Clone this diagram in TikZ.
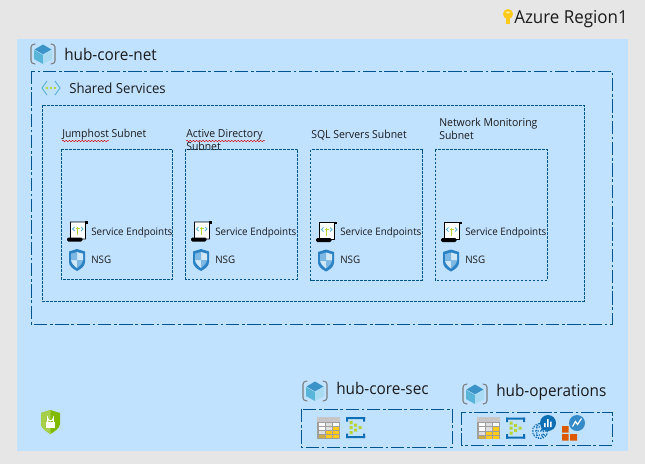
\documentclass[tikz,border=0pt]{standalone}
\usepackage{fontspec}
\setmainfont[FakeStretch=.95]{Open Sans}
\usetikzlibrary{decorations.pathmorphing}
\definecolor{pagebg}{HTML}{E6E6E6}
\definecolor{regionblue}{HTML}{C1E2FF}
\definecolor{linkblue}{HTML}{00548F}
\definecolor{txt}{HTML}{1A1A1A}
\definecolor{azdark}{HTML}{0F6FB5}
\definecolor{azmid}{HTML}{59B4D9}
\definecolor{azlight}{HTML}{A9DCF2}
\definecolor{aztop}{HTML}{3B93C7}
\definecolor{brk}{HTML}{7A7A7A}
\definecolor{limeg}{HTML}{B8D432}
\definecolor{shdark}{HTML}{2A81C4}
\definecolor{shlight}{HTML}{CFE7F7}
\definecolor{shmid}{HTML}{7DB8E4}
\definecolor{gold}{HTML}{FFCA1A}
\definecolor{orng}{HTML}{DD5900}
\definecolor{lockd}{HTML}{7FBA00}
\definecolor{lockl}{HTML}{A6CF4A}
\tikzset{
  x=.75pt,y=-.75pt,
  dashdot/.style={draw=linkblue,line width=.6pt,dash pattern=on 10pt off 2pt on 2pt off 2pt},
  dashbox/.style={draw=linkblue,line width=.6pt,dash pattern=on 2pt off 1pt},
  txtbase/.style={anchor=base west,inner sep=0pt,text=txt},
  lab/.style={txtbase,font=\fontsize{8.25pt}{10pt}\selectfont},
  labshared/.style={txtbase,font=\fontsize{10.4pt}{12pt}\selectfont},
  labbig/.style={txtbase,font=\fontsize{12.1pt}{14pt}\selectfont},
  labsvc/.style={txtbase,font=\fontsize{7.75pt}{9pt}\selectfont},
  labregion/.style={txtbase,font=\fontsize{13.4pt}{15pt}\selectfont},
  squig/.style={draw=red!85!black,line width=.35pt,decorate,decoration={snake,amplitude=.5pt,segment length=2.4pt}},
  pics/cube/.style={code={
    \draw[brk,line width=.8pt,line cap=round,line join=round] (-8,-10)--(-11,-9)--(-12,-7)--(-12,7)--(-11,9)--(-8,10);
    \draw[brk,line width=.8pt,line cap=round,line join=round] (8,-10)--(11,-9)--(12,-7)--(12,7)--(11,9)--(8,10);
    \fill[azmid] (-9,-4)--(0,1)--(0,10)--(-9,5)--cycle;
    \fill[azlight] (9,-4)--(0,1)--(0,10)--(9,5)--cycle;
    \fill[aztop] (0,-9.5)--(8.5,-4.5)--(0,.3)--(-8.5,-4.5)--cycle;
  }},
  pics/subneticon/.style={code={
    \draw[azmid,line width=.7pt] (-4,-7)--(-9,0)--(-4,7);
    \draw[azmid,line width=.7pt] (4,-7)--(9,0)--(4,7);
    \fill[limeg] (-4,0) circle (1.4) (0,0) circle (1.4) (4,0) circle (1.4);
  }},
  pics/scroll/.style={code={
    \draw[black,line width=.55pt,fill=white] (-6.5,-10)--(9,-10)--(8.5,-8)--(8.5,7)--(-6.5,7)--cycle;
    \fill[black,rounded corners=1pt] (-10,5.5) rectangle (5.5,9.5);
    \fill[black] (7.5,-11) rectangle (10.5,-8.5);
    \draw[azmid,line width=.6pt] (-2.5,-5)--(-4.5,-3)--(-2.5,-1) (4,-5)--(6,-3)--(4,-1);
    \draw[limeg,line width=.9pt] (.8,-5)--(.8,3);
    \draw[limeg,line width=.7pt] (-1.5,-3.5)--(3.1,-3.5);
  }},
  pics/shield/.style={code={
    \fill[shdark] (0,-11)--(8,-8.5)--(8,2) .. controls (8,6) and (4,9) .. (0,11) .. controls (-4,9) and (-8,6) .. (-8,2)--(-8,-8.5)--cycle;
    \fill[shlight] (0,-8)--(6,-6.3)--(6,0)--(0,0)--cycle;
    \fill[shlight] (0,0)--(-6,0) .. controls (-5.7,3) and (-3,6) .. (0,8)--cycle;
    \fill[shmid] (0,-8)--(-6,-6.3)--(-6,0)--(0,0)--cycle;
    \fill[shmid] (0,0)--(6,0) .. controls (5.7,3) and (3,6) .. (0,8)--cycle;
  }},
  pics/tableicon/.style={code={
    \fill[gray!75] (-11.5,-11) rectangle (11.5,11);
    \fill[gray!45] (-11.5,-11) rectangle (11.5,-6);
    \foreach \cx/\cy/\cc in {-10/-5/white,-3/-5/gray!25,4/-5/white,-10/-0.7/white,-3/-0.7/gray!25,4/-0.7/gold,-10/3.6/gray!25,-3/3.6/gold,4/3.6/gold,-10/7.5/gold!60!gray,-3/7.5/gold,4/7.5/gold}
      \fill[\cc] (\cx,\cy) rectangle ++(6,3.3);
  }},
  pics/flowicon/.style={code={
    \fill[azdark] (-9.5,-10.5) rectangle (9.5,-8.5) (-9.5,8.5) rectangle (9.5,10.5);
    \fill[azdark] (-9.5,-10.5) rectangle (-7.5,-6) (7.5,-10.5) rectangle (9.5,-6) (-9.5,6) rectangle (-7.5,10.5) (7.5,6) rectangle (9.5,10.5);
    \fill[limeg] (-6,-6.5) rectangle (-3,-3.5) (-6,-1.5) rectangle (-3,1.5) (-6,3.5) rectangle (-3,6.5) (-1.5,-4) rectangle (1.5,-1) (-1.5,1) rectangle (1.5,4) (3,-1.5) rectangle (6,1.5);
  }},
  pics/monitor/.style={code={
    \draw[azdark,line width=.9pt,densely dotted] (-4.5,4) circle (7.5) (-4.5,4) ellipse (3.5 and 7.5) (-12,4)--(3,4) (-11,0)--(2,0) (-11,8)--(2,8);
    \fill[azdark] (3.5,-4) circle (8);
    \fill[azdark] (-4,4)--(-1,-3)--(2,2)--cycle;
    \fill[white] (-.5,-4) rectangle (1,0) (2.5,-8) rectangle (4,0) (5.5,-5.5) rectangle (7,0);
  }},
  pics/insights/.style={code={
    \fill[orng] (-11.5,-.5) rectangle (-5,6) (-11.5,7.5) rectangle (-5,14) (-3.5,7.5) rectangle (3.5,14);
    \fill[shdark!80!azmid] (3.5,-3.5) circle (8);
    \draw[white,line width=.9pt] (-1,0)--(2,-5)--(4,-2)--(8,-8);
  }},
  pics/lockshield/.style={code={
    \fill[lockd] (0,-12)--(9.5,-9)--(9.5,2) .. controls (9.5,6) and (4,9.5) .. (0,12) .. controls (-4,9.5) and (-9.5,6) .. (-9.5,2)--(-9.5,-9)--cycle;
    \fill[lockl] (0,-12)--(-9.5,-9)--(-9.5,2) .. controls (-9.5,6) and (-4,9.5) .. (0,12)--cycle;
    \fill[white] (-4.5,0) rectangle (4.5,6);
    \draw[white,line width=.8pt] (-2.8,0)--(-2.8,-4) arc (180:0:2.8)--(2.8,0);
  }},
  pics/key/.style={code={
    \fill[gold] (0,-3) circle (5);
    \fill[gold] (-1.8,-1) rectangle (1.8,7);
    \fill[white!60!gold] (0,-4.5) ellipse (2 and 1);
  }},
}
\begin{document}
\begin{tikzpicture}
\useasboundingbox (0,0) rectangle (645,464);
\fill[pagebg] (0,0) rectangle (645,464);
\fill[regionblue] (17,39) rectangle (628,451);
\draw[dashdot] (31,71) rectangle (612,324);
\draw[dashbox] (42,105) rectangle (584,301);
\node[labregion] (region) at (514,23.5) {Azure Region1};
\pic at (508,17) {key};
\pic at (43,54) {cube};
\node[labbig] (hubnet) at (64,60) {hub-core-net};
\pic at (51,88) {subneticon};
\node[labshared] (shared) at (69,93) {Shared Services};
% subnets
\draw[dashbox] (61,149) rectangle (172.5,279);
\draw[dashbox] (185.5,149) rectangle (297.5,279);
\draw[dashbox] (310.5,149.5) rectangle (422,280);
\draw[dashbox] (435,149.5) rectangle (547.5,280);
\node[lab] (s1) at (62,137.7) {Jumphost Subnet};
\node[lab] (s2a) at (186,137.7) {Active Directory};
\node[lab] (s2b) at (186,150.7) {Subnet};
\node[lab] (s3) at (311,138.7) {SQL Servers Subnet};
\node[lab] (s4a) at (439,126.7) {Network Monitoring};
\node[lab] (s4b) at (439,139.5) {Subnet};
\draw[squig] (62,141)--(109,141);
\draw[squig] (186,141)--(265,141);
\foreach \n/\ix/\tx/\dy in {a/77/91/0,b/201/215/0,c/326/340/0.5,d/451/465/0.5}{
  \pic at (\ix,{232+\dy}) {scroll};
  \pic at (\ix,{260+\dy}) {shield};
  \node[labsvc] (se\n) at (\tx,{235+\dy}) {Service Endpoints};
  \node[labsvc] (nsg\n) at (\tx,{263+\dy}) {NSG};
}
\pic at (50.5,422) {lockshield};
% bottom
\pic at (315,391) {cube};
\node[labbig] (sec) at (336,394) {hub-core-sec};
\pic at (475,394) {cube};
\node[labbig] (ops) at (496,396.7) {hub-operations};
\draw[dashdot] (301,409) rectangle (452,447);
\draw[dashdot] (461,412) rectangle (612,445);
\pic at (328.5,427.5) {tableicon};
\pic at (355.5,427.5) {flowicon};
\pic at (488.5,428) {tableicon};
\pic at (515.5,428) {flowicon};
\pic at (544.5,427) {monitor};
\pic at (573.5,426.5) {insights};
\end{tikzpicture}
\end{document}
